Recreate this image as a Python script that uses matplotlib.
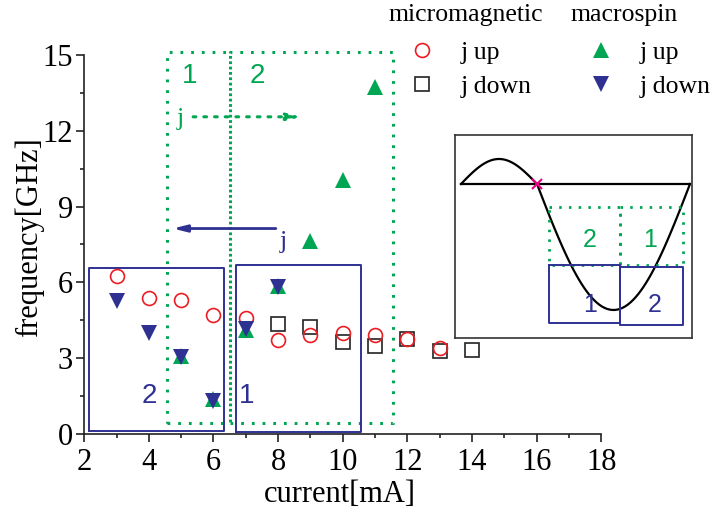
import matplotlib.pyplot as plt
import numpy as np
from matplotlib.lines import Line2D

# data
micro_up_x = [3, 4, 5, 6, 7, 8, 9, 10, 11, 12, 13]
micro_up_y = [6.27, 5.40, 5.32, 4.72, 4.60, 3.73, 3.93, 4.00, 3.93, 3.77, 3.41]
micro_down_x = [8, 9, 10, 11, 12, 13, 14]
micro_down_y = [4.34, 4.22, 3.63, 3.47, 3.77, 3.29, 3.31]
macro_up_x = [5, 6, 7, 8, 9, 10, 11]
macro_up_y = [3.10, 1.40, 4.10, 5.85, 7.64, 10.04, 13.73]
macro_down_x = [3, 4, 5, 6, 7, 8]
macro_down_y = [5.25, 4.00, 3.03, 1.30, 4.14, 5.80]

# region boxes (x0, x1, y0, y1) in data units
green_boxes = [(4.55, 6.51, 0.44, 15.1), (6.51, 11.56, 0.44, 15.1)]
navy_boxes = [(2.15, 6.33, 0.12, 6.55), (6.69, 10.56, 0.08, 6.67)]

RED = '#ed1c24'
GREEN = '#00a651'
NAVY = '#2e3192'
SERIF = 'Liberation Serif'
SANS = 'Liberation Sans'

plt.rcParams['font.family'] = SERIF

fig = plt.figure(figsize=(7.14, 5.13), dpi=100)
ax = fig.add_axes([0.118, 0.154, 0.724, 0.739])

dotted = (0, (0.9, 2.6))

def box(a, x0, x1, y0, y1, **kw):
    a.plot([x0, x1, x1, x0, x0], [y0, y0, y1, y1, y0], clip_on=False, **kw)

for b in green_boxes:
    box(ax, *b, color=GREEN, lw=2.2, linestyle=dotted)
for b in navy_boxes:
    box(ax, *b, color=NAVY, lw=1.4)

ax.plot(micro_down_x, micro_down_y, 's', ms=9.5, mfc='none', mec='#222222', mew=1.2)
ax.plot(micro_up_x, micro_up_y, 'o', ms=10, mfc='none', mec=RED, mew=1.2)
ax.plot(macro_up_x, macro_up_y, '^', ms=12, color=GREEN, mew=0)
ax.plot(macro_down_x, macro_down_y, 'v', ms=12, color=NAVY, mew=0)

# region labels and current-direction arrows
ax.text(5.27, 14.18, '1', color=GREEN, fontsize=20, family=SANS, ha='center', va='center')
ax.text(7.35, 14.18, '2', color=GREEN, fontsize=20, family=SANS, ha='center', va='center')
ax.text(4.0, 1.5, '2', color=NAVY, fontsize=20, family=SANS, ha='center', va='center')
ax.text(7.03, 1.5, '1', color=NAVY, fontsize=20, family=SANS, ha='center', va='center')
ax.text(4.96, 12.46, 'j', color=GREEN, fontsize=19, ha='center', va='center')
ax.text(8.15, 7.6, 'j', color=NAVY, fontsize=19, ha='center', va='center')
ax.annotate('', xy=(8.73, 12.55), xytext=(5.37, 12.55),
            arrowprops=dict(arrowstyle='-|>,head_length=0.8,head_width=0.2',
                            color=GREEN, lw=2.2, linestyle=dotted, shrinkA=0, shrinkB=0))
ax.annotate('', xy=(4.74, 8.13), xytext=(7.93, 8.13),
            arrowprops=dict(arrowstyle='-|>,head_length=0.8,head_width=0.2',
                            color=NAVY, lw=2, shrinkA=0, shrinkB=0))

ax.set_xlim(2, 18)
ax.set_ylim(0, 15)
ax.set_xticks(np.arange(2, 19, 2))
ax.set_xticks(np.arange(3, 18, 2), minor=True)
ax.set_yticks(np.arange(0, 16, 3))
ax.set_yticks(np.arange(1.5, 15, 3), minor=True)
ax.spines['top'].set_visible(False)
ax.spines['right'].set_visible(False)
for s in ('left', 'bottom'):
    ax.spines[s].set_linewidth(1.2)
    ax.spines[s].set_color('#222222')
ax.tick_params(which='major', direction='out', length=6, width=1.2, labelsize=22,
               color='#222222')
ax.tick_params(axis='x', which='major', pad=4)
ax.tick_params(axis='y', which='major', pad=2)
ax.tick_params(which='minor', direction='out', length=3, width=1.2, color='#222222')
ax.set_xlabel('current[mA]', fontsize=22)
ax.set_ylabel('frequency[GHz]', fontsize=22)
ax.xaxis.set_label_coords(0.4946, -0.122)
ax.yaxis.set_label_coords(-0.078, 0.52)

# legend
handles = [Line2D([], [], ls='none', marker='o', ms=10, mfc='none', mec=RED, mew=1.2),
           Line2D([], [], ls='none', marker='s', ms=9.5, mfc='none', mec='#222222', mew=1.2),
           Line2D([], [], ls='none', marker='^', ms=12, color=GREEN, mew=0),
           Line2D([], [], ls='none', marker='v', ms=12, color=NAVY, mew=0)]
labels = ['j up', 'j down', 'j up', 'j down']
fig.legend(handles, labels, ncol=2, loc='upper left', bbox_to_anchor=(0.5728, 0.920),
           frameon=False, fontsize=18.5, handlelength=1.0, handletextpad=1.0,
           columnspacing=2.2, labelspacing=0.41, borderpad=0, borderaxespad=0)
fig.text(466 / 714, 1 - 15 / 513, 'micromagnetic', fontsize=18.5, ha='center', va='center')
fig.text(624 / 714, 1 - 15 / 513, 'macrospin', fontsize=18.5, ha='center', va='center')

# inset schematic (coordinates in inset pixel units)
curve_x = [461, 503, 537, 620, 690]   # start, peak, crossing, trough, end
curve_y = [184, 159, 184, 310, 184]
inset_green = [(549, 620, 207, 265), (620, 683, 207, 265)]
inset_navy = [(549, 620, 265, 323), (620, 683, 267, 325)]

ins = fig.add_axes([455 / 714, 1 - 338 / 513, 237 / 714, 203 / 513])
ins.set_xlim(455, 692)
ins.set_ylim(338, 135)
ins.set_xticks([])
ins.set_yticks([])
for s in ins.spines.values():
    s.set_linewidth(1.2)
    s.set_color('#333333')

t1 = np.linspace(0, 1, 60)
seg1_x = curve_x[0] + (curve_x[2] - curve_x[0]) * t1
seg1_y = curve_y[0] - (curve_y[0] - curve_y[1]) * np.sin(np.pi * t1)
seg2_x = curve_x[2] + (curve_x[4] - curve_x[2]) * t1
seg2_y = curve_y[2] + (curve_y[3] - curve_y[2]) * np.sin(np.pi * t1)
ins.plot(np.r_[seg1_x, seg2_x], np.r_[seg1_y, seg2_y], color='black', lw=1.6)
ins.plot([curve_x[0], curve_x[4]], [curve_y[0], curve_y[4]], color='black', lw=1.6)
ins.plot([curve_x[2]], [curve_y[2]], 'x', color='#e6007e', ms=7, mew=1.5)

for b in inset_green:
    box(ins, b[0], b[1], b[2], b[3], color=GREEN, lw=2.0, linestyle=dotted)
for b in inset_navy:
    box(ins, b[0], b[1], b[2], b[3], color=NAVY, lw=1.4)
ins.text(590, 240, '2', color=GREEN, fontsize=18, family=SANS, ha='center', va='center')
ins.text(650, 240, '1', color=GREEN, fontsize=18, family=SANS, ha='center', va='center')
ins.text(590, 305, '1', color=NAVY, fontsize=18, family=SANS, ha='center', va='center')
ins.text(655, 305, '2', color=NAVY, fontsize=18, family=SANS, ha='center', va='center')

fig.savefig('out.png', dpi=100)
